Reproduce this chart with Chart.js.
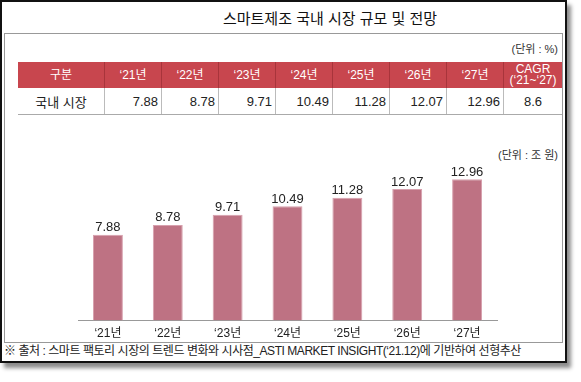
<!DOCTYPE html>
<html>
<head>
<script src="https://cdn.jsdelivr.net/npm/chart.js@4.4.0/dist/chart.umd.min.js"></script>
<style>
    body { margin: 0; width: 581px; height: 382px; background: #fff; font-family: "Liberation Sans", "Noto Sans CJK KR", sans-serif; color: #222; position: relative; overflow: hidden; }
    .frame { position: absolute; left: 0; top: 0; width: 567px; height: 363px; box-sizing: border-box; border: 2px solid #111; box-shadow: 4px 5px 4px rgba(0,0,0,0.45); }
    .inner { position: absolute; left: 4px; top: 33px; width: 559px; height: 310px; box-sizing: border-box; border: 1px solid #999; }
    .title { position: absolute; left: 0; top: 7px; width: 660px; text-align: center; font-size: 15px; color: #111; }
    .unit { position: absolute; right: 23px; font-size: 11px; color: #333; }
    table { position: absolute; left: 18px; top: 62px; width: 536px; border-collapse: collapse; table-layout: fixed; }
    th { background: #c8464e; color: #fff; font-weight: normal; font-size: 12px; height: 26px; padding: 0; border-left: 1px solid #a8343b; line-height: 11px; }
    th:first-child { border-left: none; }
    td { height: 26px; font-size: 13px; padding: 0 3px 0 0; text-align: right; border-left: 1px solid #bbb; border-bottom: 1px solid #aaa; }
    td:first-child { border-left: none; text-align: center; padding: 0; }
    td:last-child { text-align: center; padding: 0; }
    .footer { position: absolute; left: 4px; top: 344px; font-size: 12px; line-height: 15px; letter-spacing: -0.45px; color: #222; white-space: nowrap; }
    #c { position: absolute; left: 0; top: 0; }
</style>
</head>
<body>
<div class="frame"></div>
<div class="inner"></div>
<div class="title">스마트제조 국내 시장 규모 및 전망</div>
<div class="unit" style="top: 40px;">(단위 : %)</div>
<table>
    <thead><tr id="headRow"></tr></thead>
    <tbody><tr id="dataRow"></tr></tbody>
</table>
<div class="unit" style="top: 146px;">(단위 : 조 원)</div>
<div class="footer">※ 출처 : 스마트 팩토리 시장의 트렌드 변화와 시사점_ASTI MARKET INSIGHT(‘21.12)에 기반하여 선형추산</div>
<canvas id="c" width="581" height="347"></canvas>

<script>
    const years = ["‘21년", "‘22년", "‘23년", "‘24년", "‘25년", "‘26년", "‘27년"];
    const marketSize = [7.88, 8.78, 9.71, 10.49, 11.28, 12.07, 12.96];
    const rowLabel = "국내 시장";
    const cagr = "8.6";

    // Table
    const colWidths = [86, 56, 56, 56, 56, 56, 56, 56, 58];
    const headRow = document.getElementById('headRow');
    const dataRow = document.getElementById('dataRow');
    const heads = ["구분"].concat(years, ["CAGR<br>(‘21~‘27)"]);
    heads.forEach((h, i) => {
        const th = document.createElement('th');
        th.style.width = colWidths[i] + 'px';
        th.innerHTML = h;
        headRow.appendChild(th);
    });
    [rowLabel].concat(marketSize.map(v => v.toFixed(2)), [cagr]).forEach(v => {
        dataRow.insertCell().textContent = v;
    });

    // value labels above bars
    const barLabels = {
        id: 'barLabels',
        afterDatasetsDraw(chart) {
            const ctx = chart.ctx;
            ctx.save();
            ctx.font = '13px "Liberation Sans", sans-serif';
            ctx.fillStyle = '#222';
            ctx.textAlign = 'center';
            ctx.textBaseline = 'middle';
            chart.getDatasetMeta(0).data.forEach((bar, i) => {
                ctx.fillText(marketSize[i].toFixed(2), bar.x, bar.y - 7);
            });
            ctx.restore();
        }
    };

    new Chart(document.getElementById('c'), {
        type: 'bar',
        data: {
            labels: years,
            datasets: [{
                data: marketSize,
                backgroundColor: '#be7283',
                borderColor: '#d7a0ad',
                borderWidth: 1,
                barPercentage: 0.5,
                categoryPercentage: 1
            }]
        },
        options: {
            responsive: false,
            animation: false,
            events: [],
            layout: { padding: { left: 78, right: 84, top: 168, bottom: 0 } },
            plugins: { legend: { display: false }, tooltip: { enabled: false } },
            scales: {
                x: {
                    grid: { display: false, drawTicks: false },
                    border: { display: true, color: '#999', width: 1 },
                    ticks: { color: '#222', font: { size: 12, family: '"Liberation Sans", "Noto Sans CJK KR"' }, padding: 6 }
                },
                y: { display: false, min: 0, max: 14 }
            }
        },
        plugins: [barLabels]
    });
</script>
</body>
</html>
